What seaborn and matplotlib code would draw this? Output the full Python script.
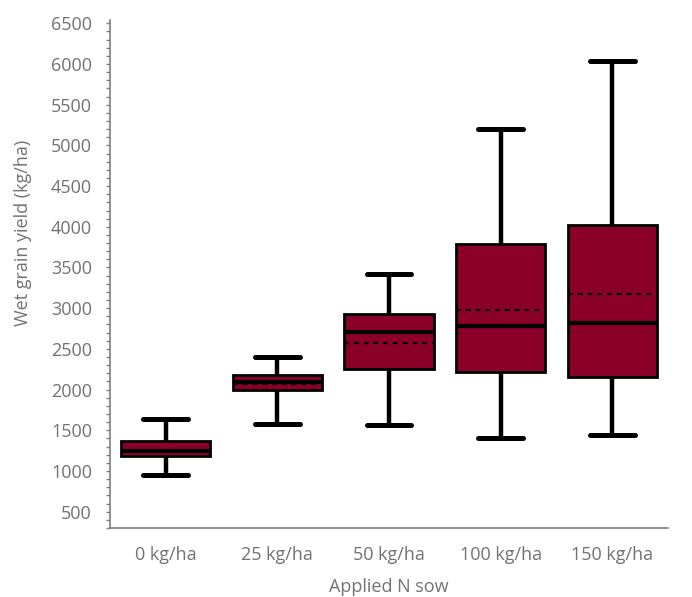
import numpy as np
import pandas as pd
import matplotlib
matplotlib.use("Agg")
import matplotlib.pyplot as plt
from matplotlib.ticker import MultipleLocator
import seaborn as sns

# ---- data ----
categories = ["0 kg/ha", "25 kg/ha", "50 kg/ha", "100 kg/ha", "150 kg/ha"]
whisker_low = [950, 1575, 1570, 1400, 1440]
q1 = [1180, 1995, 2255, 2220, 2160]
medians = [1250, 2095, 2712, 2786, 2820]
q3 = [1370, 2180, 2926, 3786, 4020]
whisker_high = [1637, 2398, 3425, 5203, 6042]
means = [1262, 2067, 2577, 2979, 3177]

yticks = list(range(500, 6501, 500))

sns.set_theme(style="white")
plt.rcParams["font.family"] = ["Open Sans", "DejaVu Sans"]

rows = []
for c, lo, a, m, b, hi in zip(categories, whisker_low, q1, medians, q3, whisker_high):
    for v in (lo, a, m, b, hi):
        rows.append({"Applied N sow": c, "yield": v})
df = pd.DataFrame(rows)

fig = plt.figure(figsize=(6.92, 5.97), dpi=100)
ax = fig.add_axes([110 / 692, (597 - 528) / 597, 558 / 692, 508 / 597])

fill = "#8B0029"
sns.boxplot(
    data=df, x="Applied N sow", y="yield", order=categories,
    color=fill, saturation=1, whis=(0, 100), width=0.8,
    linecolor="black", linewidth=2, ax=ax,
    boxprops=dict(linewidth=2, edgecolor="black"),
    whiskerprops=dict(linewidth=3.2, color="black"),
    capprops=dict(linewidth=3.6, color="black", solid_capstyle="round"),
    medianprops=dict(linewidth=3, color="black"),
)

pos = np.arange(len(categories))
ax.hlines(means, pos - 0.4, pos + 0.4, colors="black",
          linestyles=(0, (2.2, 2.2)), linewidth=1.6, zorder=5)

ax.set_xlim(-0.5, len(categories) - 0.5)
ax.set_ylim(300, 6540)
ax.set_yticks(yticks)
ax.yaxis.set_minor_locator(MultipleLocator(100))

gray = "#727272"
for side in ["top", "right"]:
    ax.spines[side].set_visible(False)
for side in ["left", "bottom"]:
    ax.spines[side].set_color("#7f7f7f")
    ax.spines[side].set_linewidth(1.2)

ax.tick_params(axis="y", which="both", direction="out", length=3, width=1,
               color="#7f7f7f", left=True, labelsize=13, labelcolor=gray, pad=10)
ax.tick_params(axis="x", length=0, labelsize=13, labelcolor=gray, pad=13)

ax.set_xlabel("Applied N sow", fontsize=13, color=gray, labelpad=10)
ax.set_ylabel("Wet grain yield (kg/ha)", fontsize=13, color=gray)
ax.yaxis.set_label_coords(-0.14, 0.58)

fig.savefig("out.png", dpi=100)
